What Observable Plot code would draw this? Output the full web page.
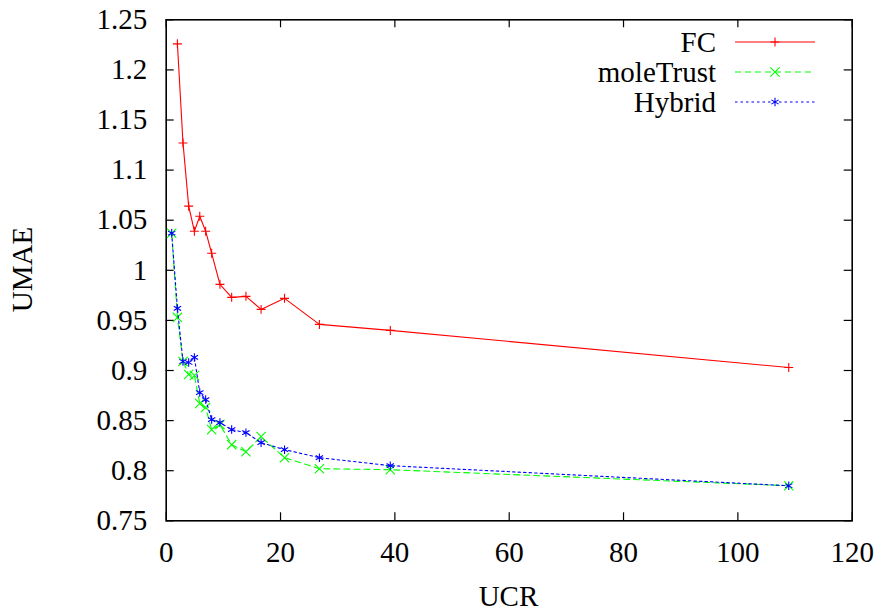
<!DOCTYPE html>
<html><head><meta charset="utf-8">
<script src="https://cdn.jsdelivr.net/npm/d3@7"></script>
<script src="https://cdn.jsdelivr.net/npm/@observablehq/plot@0.6"></script>
<style>
body{margin:0;background:#fff;font-family:'Liberation Serif',serif}
#wrap{position:relative;width:880px;height:611px}
.ttl{position:absolute;width:200px;height:29px;line-height:29px;font-size:29px;text-align:center;color:#000;font-family:'Liberation Serif',serif;white-space:nowrap}
#xt{left:408.5px;top:581.7px}
#yt{left:-77.8px;top:255.2px;transform:rotate(-90deg)}
</style>
</head><body>
<div id="wrap">
  <div id="chart"></div>
  <div class="ttl" id="xt">UCR</div>
  <div class="ttl" id="yt">UMAE</div>
</div>
<script>
// ---- data ----
const ucr = [0.96, 1.96, 2.94, 3.93, 4.93, 5.87, 6.9, 7.95, 9.4, 11.45, 13.95, 16.6, 20.7, 26.8, 39.2, 108.9];
const fc = [null, 1.226, 1.127, 1.064, 1.039, 1.054, 1.039, 1.017, 0.986, 0.973, 0.974, 0.961, 0.972, 0.946, 0.940, 0.903];
const moleTrust = [1.037, 0.953, 0.909, 0.896, 0.895, 0.867, 0.863, 0.841, 0.846, 0.826, 0.819, 0.834, 0.813, 0.802, 0.801, 0.785];
const hybrid = [1.037, 0.962, 0.909, 0.908, 0.913, 0.878, 0.871, 0.851, 0.848, 0.841, 0.838, 0.828, 0.821, 0.813, 0.805, 0.785];
const seriesNames = ["FC", "moleTrust", "Hybrid"];
const xTicks = [0, 20, 40, 60, 80, 100, 120];
const yTicks = [0.75, 0.8, 0.85, 0.9, 0.95, 1, 1.05, 1.1, 1.15, 1.2, 1.25];
const yTickLabels = ["0.75", "0.8", "0.85", "0.9", "0.95", "1", "1.05", "1.1", "1.15", "1.2", "1.25"];

const values = {FC: fc, moleTrust: moleTrust, Hybrid: hybrid};
const tables = {};
for (const s of seriesNames) tables[s] = ucr.map((u, i) => ({ucr: u, v: values[s][i], s})).filter(d => d.v != null);

const style = {
  FC: {color: "#ff0000", dash: null, symbol: "plus", r: 3},
  moleTrust: {color: "#00ff00", dash: "6,4", symbol: "times", r: 4.3},
  Hybrid: {color: "#0000ff", dash: "2.5,3", symbol: "asterisk", r: 4}
};

const W = 880, H = 611, mL = 165.7, mR = 28.3, mT = 19.3, mB = 90.7;
const pw = W - mL - mR, ph = H - mT - mB, tl = 8;
const font = "Liberation Serif";
const fs = 29;

const marks = [];
for (const s of seriesNames) {
  const st = style[s];
  marks.push(Plot.line(tables[s], {x: "ucr", y: "v", stroke: st.color, strokeWidth: 1.1, strokeDasharray: st.dash}));
  marks.push(Plot.dot(tables[s], {x: "ucr", y: "v", stroke: st.color, symbol: st.symbol, r: st.r, strokeWidth: 1.1}));
}

const chart = Plot.plot({
  width: W, height: H,
  marginLeft: mL, marginRight: mR, marginTop: mT, marginBottom: mB,
  style: {fontFamily: font, fontSize: fs + "px"},
  x: {domain: [0, 120]},
  y: {domain: [0.75, 1.25]},
  marks: [
    Plot.axisX(xTicks, {tickSize: 0, tickPadding: 21, fontSize: fs, label: null}),
    Plot.axisY(yTicks, {tickSize: 0, tickPadding: 19, fontSize: fs, tickFormat: (d) => yTickLabels[yTicks.indexOf(d)], label: null}),
    Plot.tickX(xTicks, {x: d => d, insetTop: ph - tl, stroke: "#000", strokeWidth: 1.2}),
    Plot.tickX(xTicks, {x: d => d, insetBottom: ph - tl, stroke: "#000", strokeWidth: 1.2}),
    Plot.tickY(yTicks, {y: d => d, insetRight: pw - tl, stroke: "#000", strokeWidth: 1.2}),
    Plot.tickY(yTicks, {y: d => d, insetLeft: pw - tl, stroke: "#000", strokeWidth: 1.2}),
    ...marks,
    Plot.frame({stroke: "#000", strokeWidth: 1.6})
  ]
});
document.getElementById("chart").append(chart);

// ---- legend (gnuplot style, top right inside the frame) ----
const svg = d3.select(chart);
const lg = svg.append("g").attr("font-size", fs).attr("font-family", font);
const symMap = {plus: d3.symbolPlus, times: d3.symbolTimes, asterisk: d3.symbolAsterisk};
seriesNames.forEach((s, i) => {
  const st = style[s];
  const y = 42 + i * 30;
  lg.append("text").attr("x", 716).attr("y", y).attr("dy", "0.34em").attr("text-anchor", "end").attr("fill", "#000").text(s);
  lg.append("line").attr("x1", 735).attr("x2", 815).attr("y1", y).attr("y2", y)
    .attr("stroke", st.color).attr("stroke-width", 1.1).attr("stroke-dasharray", st.dash);
  lg.append("path").attr("transform", `translate(775,${y})`)
    .attr("d", d3.symbol(symMap[st.symbol], Math.PI * st.r * st.r)())
    .attr("fill", "none").attr("stroke", st.color).attr("stroke-width", 1.1);
});
</script>
</body></html>
